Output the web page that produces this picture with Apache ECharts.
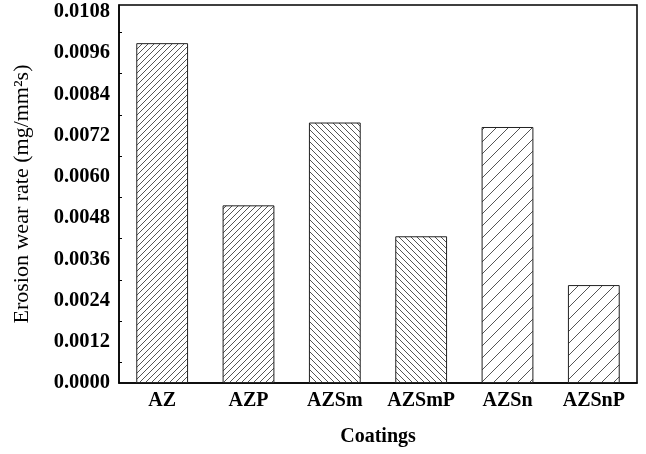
<!DOCTYPE html>
<html><head><meta charset="utf-8">
<script src="https://cdn.jsdelivr.net/npm/echarts@6/dist/echarts.min.js"></script>
<style>html,body{margin:0;padding:0;background:#fff}#c{width:646px;height:454px}</style>
</head><body><div id="c"></div>
<script>
const categories = ['AZ','AZP','AZSm','AZSmP','AZSn','AZSnP'];
const values = [0.00989, 0.00517, 0.00758, 0.00427, 0.00745, 0.00285];
const hatchKinds = ['dense/','dense/','dense\\','dense\\','sparse/','sparse/'];

function makePattern(kind){
  const s = kind.startsWith('sparse') ? 12 : 6;
  const c = document.createElement('canvas');
  c.width = s; c.height = s;
  const g = c.getContext('2d');
  g.fillStyle = '#fff'; g.fillRect(0,0,s,s);
  g.strokeStyle = '#555'; g.lineWidth = 1;
  const back = kind.endsWith('\\');
  g.beginPath();
  for (let k=-1;k<=1;k++){
    if (!back){ g.moveTo(k*s, s); g.lineTo(k*s+s, 0); }
    else { g.moveTo(k*s, 0); g.lineTo(k*s+s, s); }
  }
  g.stroke();
  return {image: c, repeat: 'repeat'};
}

const font = 'Liberation Serif';
const chart = echarts.init(document.getElementById('c'), null, {renderer:'canvas'});
chart.setOption({
  animation:false,
  grid:{left:119,right:9,top:5,bottom:71,show:true,borderColor:'#000',borderWidth:1.5,backgroundColor:'transparent'},
  xAxis:{
    type:'category', data:categories,
    name:'Coatings', nameLocation:'middle', nameGap:44,
    nameTextStyle:{fontFamily:font,fontSize:20,fontWeight:'bold',color:'#000'},
    axisLine:{lineStyle:{color:'#000',width:1.5}},
    axisTick:{inside:true,alignWithLabel:true,length:5,lineStyle:{color:'#000',width:1}},
    axisLabel:{interval:0,hideOverlap:false,fontFamily:font,fontSize:20,fontWeight:'bold',color:'#000',margin:8}
  },
  yAxis:{
    type:'value', min:0, max:0.011, interval:0.0012,
    name:'Erosion wear rate (mg/mm²s)', nameLocation:'middle', nameGap:86,
    nameTextStyle:{fontFamily:font,fontSize:22,color:'#000'},
    axisLine:{show:true,lineStyle:{color:'#000',width:1.5}},
    axisTick:{inside:true,length:6,lineStyle:{color:'#000',width:1}},
    minorTick:{show:true,splitNumber:2,length:3,lineStyle:{color:'#000',width:1}},
    splitLine:{show:false},
    axisLabel:{fontFamily:font,fontSize:20.5,fontWeight:'bold',color:'#000',margin:9,showMaxLabel:false,
      formatter:v=>v.toFixed(4)}
  },
  series:[{
    type:'bar', barWidth:'60%',
    data: values.map((v,i)=>({value:v,itemStyle:{color:makePattern(hatchKinds[i]),borderColor:'#222',borderWidth:1}}))
  }]
});
</script></body></html>
